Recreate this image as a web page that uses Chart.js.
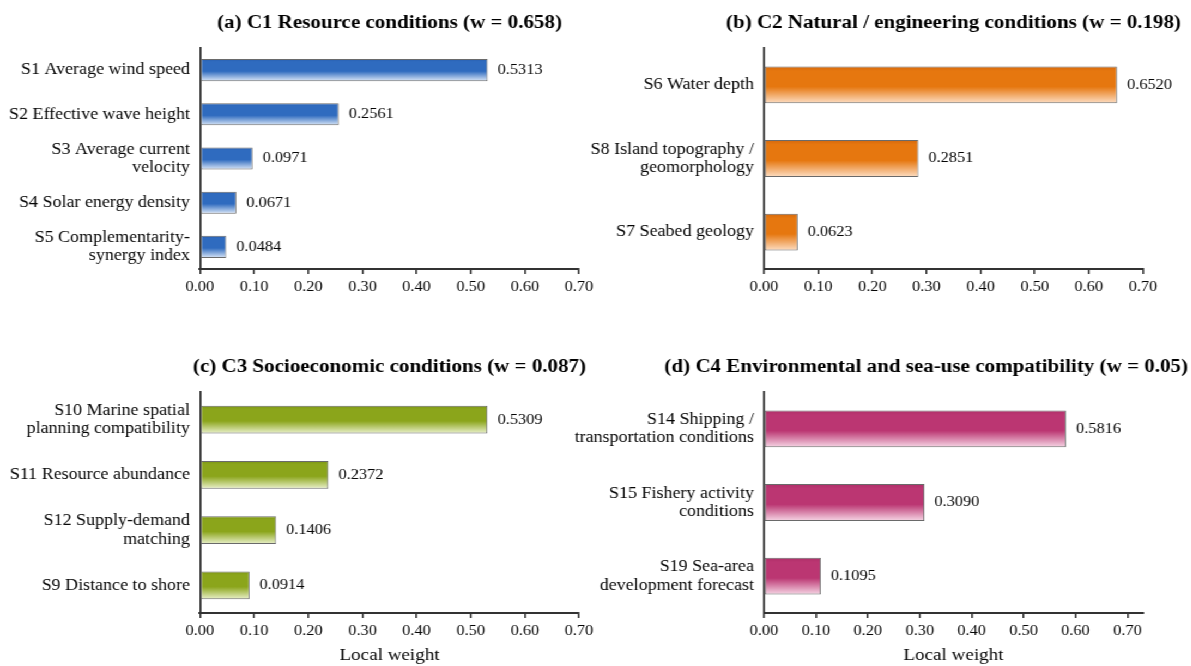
<!DOCTYPE html>
<html>
<head>
<meta charset="utf-8">
<script src="https://cdn.jsdelivr.net/npm/chart.js@4.4.1/dist/chart.umd.min.js"></script>
<style>
  html, body { margin: 0; padding: 0; background: #fff; overflow: hidden; }
  #stage { position: absolute; left: 0; top: 0; width: 1093px; height: 666px;
           transform: scaleX(1.09); transform-origin: 0 0; }
  #stage canvas { position: absolute; }
</style>
</head>
<body>
<div id="stage">
  <canvas id="panelA"></canvas>
  <canvas id="panelB"></canvas>
  <canvas id="panelC"></canvas>
  <canvas id="panelD"></canvas>
</div>
<script>
// ---- data ----
const titleA = "(a) C1 Resource conditions (w = 0.658)";
const labelsA = [["S1 Average wind speed"], ["S2 Effective wave height"], ["S3 Average current", "velocity"], ["S4 Solar energy density"], ["S5 Complementarity-", "synergy index"]];
const valuesA = [0.5313, 0.2561, 0.0971, 0.0671, 0.0484];

const titleB = "(b) C2 Natural / engineering conditions (w = 0.198)";
const labelsB = [["S6 Water depth"], ["S8 Island topography /", "geomorphology"], ["S7 Seabed geology"]];
const valuesB = [0.6520, 0.2851, 0.0623];

const titleC = "(c) C3 Socioeconomic conditions (w = 0.087)";
const labelsC = [["S10 Marine spatial", "planning compatibility"], ["S11 Resource abundance"], ["S12 Supply-demand", "matching"], ["S9 Distance to shore"]];
const valuesC = [0.5309, 0.2372, 0.1406, 0.0914];

const titleD = "(d) C4 Environmental and sea-use compatibility (w = 0.05)";
const labelsD = [["S14 Shipping /", "transportation conditions"], ["S15 Fishery activity", "conditions"], ["S19 Sea-area", "development forecast"]];
const valuesD = [0.5816, 0.3090, 0.1095];

const xTicks = [0, 0.1, 0.2, 0.3, 0.4, 0.5, 0.6, 0.7];
const xAxisTitle = "Local weight";

// ---- appearance ----
const K = 1.09;                 // horizontal stretch applied to the stage
const SERIF = "'Liberation Serif', 'Times New Roman', serif";
const INK = '#050505';
const palettes = {
  blue:    { dark: '#2A5FAE', main: '#2F6BBF', light: '#DCE8F8' },
  orange:  { dark: '#D4680E', main: '#E6770F', light: '#FDDEC4' },
  green:   { dark: '#7C9515', main: '#8BA51B', light: '#EAF1CC' },
  magenta: { dark: '#AE2F69', main: '#BB3672', light: '#F6D6E5' }
};

const RIGHT_LEFT = 514;         // left edge of the right-hand canvases
const panels = [
  { id: 'panelA', left: 0,          top: 0,   width: 546, height: 310, plotLeft: 200 / K,              plotRight: 579 / K,              plotTop: 48, axisY: 269, titleY: 23, xMax: 0.70, title: titleA, labels: labelsA, values: valuesA, pal: palettes.blue,    axisTitle: false },
  { id: 'panelB', left: RIGHT_LEFT, top: 0,   width: 579, height: 310, plotLeft: 764 / K - RIGHT_LEFT, plotRight: 1143 / K - RIGHT_LEFT, plotTop: 48, axisY: 269, titleY: 23, xMax: 0.70, title: titleB, labels: labelsB, values: valuesB, pal: palettes.orange,  axisTitle: false },
  { id: 'panelC', left: 0,          top: 330, width: 546, height: 336, plotLeft: 200 / K,              plotRight: 579 / K,              plotTop: 62, axisY: 283, titleY: 37, xMax: 0.70, title: titleC, labels: labelsC, values: valuesC, pal: palettes.green,   axisTitle: true },
  { id: 'panelD', left: RIGHT_LEFT, top: 330, width: 579, height: 336, plotLeft: 764 / K - RIGHT_LEFT, plotRight: 1143 / K - RIGHT_LEFT, plotTop: 62, axisY: 283, titleY: 37, xMax: 0.73, title: titleD, labels: labelsD, values: valuesD, pal: palettes.magenta, axisTitle: true }
];

// vertical gradient across each bar: solid body fading to a pale lower edge
function barFill(pal, n) {
  return function (ctx) {
    const chart = ctx.chart;
    const y = chart.scales.y;
    if (!chart.chartArea || !y || ctx.dataIndex === undefined) return pal.main;
    const yc = y.getPixelForValue(ctx.dataIndex);
    const half = (y.height / n) * 0.5 / 2;
    const g = chart.ctx.createLinearGradient(0, yc - half, 0, yc + half);
    g.addColorStop(0, pal.dark);
    g.addColorStop(0.12, pal.main);
    g.addColorStop(0.55, pal.main);
    g.addColorStop(1, pal.light);
    return g;
  };
}

// panel heading centred over the plot area, kept inside the page
const headingPlugin = {
  id: 'heading',
  afterDraw(chart, args, opts) {
    const { ctx, chartArea } = chart;
    ctx.save();
    ctx.font = 'bold 19.3px ' + SERIF;
    ctx.fillStyle = '#000';
    ctx.textBaseline = 'middle';
    ctx.textAlign = 'center';
    const w = ctx.measureText(opts.text).width;
    let cx = (chartArea.left + chartArea.right) / 2;
    if (cx + w / 2 > opts.maxRight) cx = opts.maxRight - w / 2;
    ctx.fillText(opts.text, cx, opts.y);
    ctx.restore();
  }
};

// value printed at the end of each bar
const valueLabelPlugin = {
  id: 'valueLabels',
  afterDatasetsDraw(chart) {
    const { ctx } = chart;
    const meta = chart.getDatasetMeta(0);
    const vals = chart.data.datasets[0].data;
    ctx.save();
    ctx.font = '15px ' + SERIF;
    ctx.fillStyle = INK;
    ctx.textAlign = 'left';
    ctx.textBaseline = 'middle';
    meta.data.forEach((bar, i) => {
      ctx.fillText(vals[i].toFixed(4), bar.x + 9.2, bar.y);
    });
    ctx.restore();
  }
};

panels.forEach(P => {
  const cv = document.getElementById(P.id);
  cv.width = P.width;
  cv.height = P.height;
  cv.style.left = P.left + 'px';
  cv.style.top = P.top + 'px';
  cv.style.width = P.width + 'px';
  cv.style.height = P.height + 'px';

  new Chart(cv, {
    type: 'bar',
    data: {
      labels: P.labels,
      datasets: [{
        data: P.values,
        backgroundColor: barFill(P.pal, P.labels.length),
        borderColor: '#6A6A6A',
        borderWidth: 1,
        borderSkipped: false,
        categoryPercentage: 1.0,
        barPercentage: 0.5
      }]
    },
    options: {
      indexAxis: 'y',
      responsive: false,
      animation: false,
      devicePixelRatio: 1,
      layout: { padding: { left: 0, top: P.plotTop, right: P.width - P.plotRight, bottom: 0 } },
      plugins: {
        legend: { display: false },
        tooltip: { enabled: false },
        title: { display: false },
        heading: { text: P.title, y: P.titleY, maxRight: 1188 / K - P.left }
      },
      scales: {
        x: {
          type: 'linear',
          min: 0,
          max: P.xMax,
          afterFit(s) {
            s.height = P.height - P.axisY;
            s.paddingLeft = 0;
            s.paddingRight = 0;
          },
          afterBuildTicks(s) { s.ticks = xTicks.map(v => ({ value: v })); },
          ticks: {
            color: INK,
            padding: 4.5,
            font: { family: SERIF, size: 15 },
            maxRotation: 0,
            callback: v => Number(v).toFixed(2)
          },
          grid: { drawOnChartArea: false, drawTicks: true, tickLength: 5, color: '#333', lineWidth: 1.6 },
          border: { display: true, color: '#333', width: 2 },
          title: {
            display: P.axisTitle,
            text: xAxisTitle,
            color: INK,
            font: { family: SERIF, size: 17.5 },
            padding: { top: 0, bottom: 0 }
          }
        },
        y: {
          type: 'category',
          afterFit(s) { s.width = P.plotLeft; },
          ticks: {
            color: INK,
            padding: 9.2,
            font: { family: SERIF, size: 16.5, lineHeight: 1.11 }
          },
          grid: { drawOnChartArea: false, drawTicks: false },
          border: { display: true, color: '#333', width: 1.8 }
        }
      }
    },
    plugins: [headingPlugin, valueLabelPlugin]
  });
});
</script>
</body>
</html>
